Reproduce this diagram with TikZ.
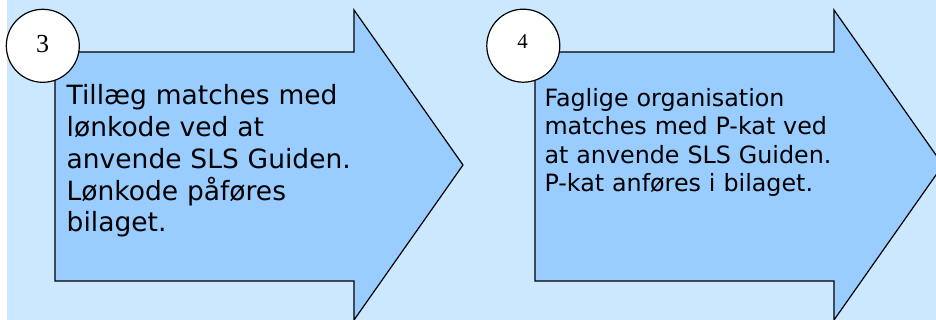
\documentclass[tikz,border=0pt]{standalone}
\usepackage{fontspec}
\setmainfont{DejaVu Sans}
\newfontfamily\numfont{Liberation Serif}
\definecolor{bgblue}{HTML}{CCE8FF}
\definecolor{arrowblue}{HTML}{99CCFF}
\begin{document}
\begin{tikzpicture}[x=1pt,y=-1pt,
  bigarrow/.style={draw=black,fill=arrowblue,line width=1.2pt,line join=miter},
  numcircle/.style={draw=black,fill=white,line width=1.2pt,circle,minimum size=73pt,inner sep=0pt},
  numlabel/.style={inner sep=0pt,font=\numfont},
  steptext/.style={inner sep=0pt,anchor=base west,align=left,text width=330pt}]
\useasboundingbox (0,0) rectangle (936,320);
\clip (0,0) rectangle (936,320);
\fill[white] (0,0) rectangle (936,320);
\fill[bgblue] (7,0) rectangle (936,320);
% arrow 3
\draw[bigarrow] (55,52) -- (354,52) -- (354,10) -- (463,165) -- (354,320) -- (354,281) -- (55,281) -- cycle;
% arrow 4
\draw[bigarrow] (535,52) -- (834,52) -- (834,10) -- (943,165) -- (834,320) -- (834,281) -- (535,281) -- cycle;
% circles
\node[numcircle] (c3) at (42.8,45.8) {};
\node[numlabel,font=\numfont\fontsize{26}{30}\selectfont] (n3) at (42.5,44.2) {3};
\node[numcircle] (c4) at (523.3,45.7) {};
\node[numlabel,font=\numfont\fontsize{21}{25}\selectfont] (n4) at (522.5,41.2) {4};
% texts
\node[steptext,font=\fontsize{26.5}{31.7}\selectfont] (t3) at (66.5,105) {Tillæg matches med\\ lønkode ved at\\ anvende SLS Guiden.\\ Lønkode påføres\\ bilaget.};
\node[steptext,font=\fontsize{23.8}{28.3}\selectfont] (t4) at (544.3,106.7) {Faglige organisation\\ matches med P-kat ved\\ at anvende SLS Guiden.\\ P-kat anføres i bilaget.};
\end{tikzpicture}
\end{document}
